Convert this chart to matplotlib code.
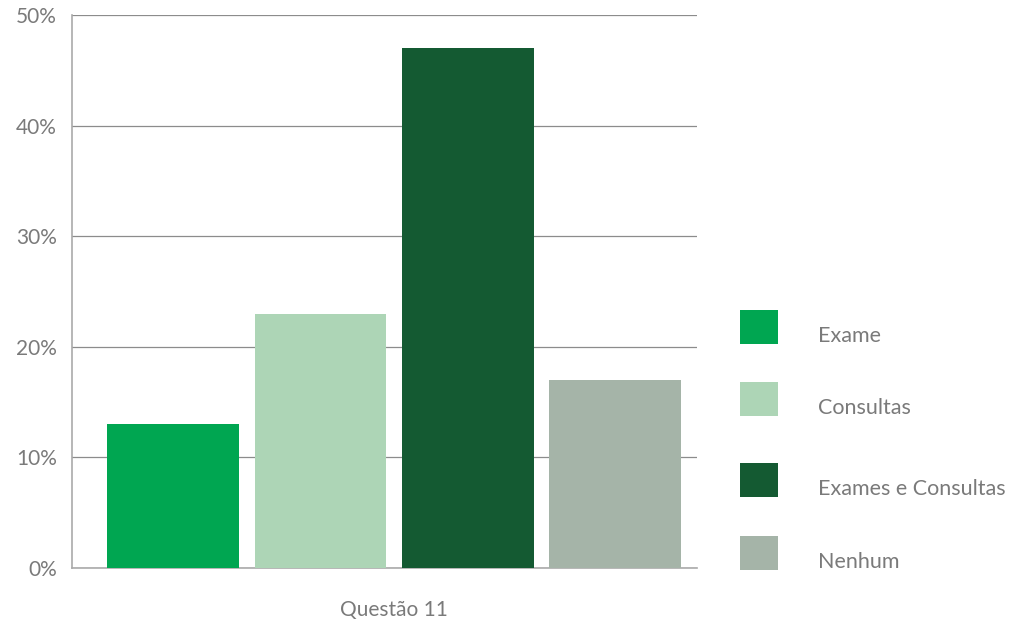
import matplotlib.pyplot as plt
from matplotlib.patches import Rectangle

categories = ['Exame', 'Consultas', 'Exames e Consultas', 'Nenhum']
values = [13, 23, 47, 17]
colors = ['#00A651', '#ADD5B6', '#145A32', '#A5B4A8']
yticks = [0, 10, 20, 30, 40, 50]
xlabel = 'Questão 11'

plt.rcParams['font.family'] = ['Lato', 'DejaVu Sans']
text_col = '#7a7a7a'
grid_col = '#8c8c8c'
W, H = 1011, 626

fig = plt.figure(figsize=(W / 100, H / 100), dpi=100)
ax = fig.add_axes([72 / W, 58 / H, 625 / W, 553 / H])

x = list(range(len(categories)))
ax.bar(x, values, width=0.895, color=colors, zorder=3)

ax.set_xlim(-0.685, 3.553)
ax.set_ylim(0, 50)
ax.set_yticks(yticks)
ax.set_yticklabels([f'{v}%' for v in yticks], fontsize=15, color=text_col)
ax.tick_params(axis='y', length=0, pad=11)
ax.set_xticks([])
ax.yaxis.grid(True, color=grid_col, linewidth=0.9, zorder=0)

for s in ['top', 'right']:
    ax.spines[s].set_visible(False)
for s in ['left', 'bottom']:
    ax.spines[s].set_color('#aaaaaa')
    ax.spines[s].set_linewidth(1.2)

ax.text(1.5, -0.076, xlabel, transform=ax.get_xaxis_transform(),
        ha='center', va='center', fontsize=15, color=text_col)

# legend drawn by hand (uneven spacing in the original)
leg_y = [327, 399, 480, 553]
for lab, c, yc in zip(categories, colors, leg_y):
    fig.add_artist(Rectangle((740 / W, (H - yc - 17) / H), 38 / W, 34 / H,
                             transform=fig.transFigure, facecolor=c,
                             edgecolor='none'))
    fig.text(818 / W, (H - yc - 9) / H, lab, ha='left', va='center',
             fontsize=15.5, color=text_col)

fig.savefig('out.png', dpi=100)
